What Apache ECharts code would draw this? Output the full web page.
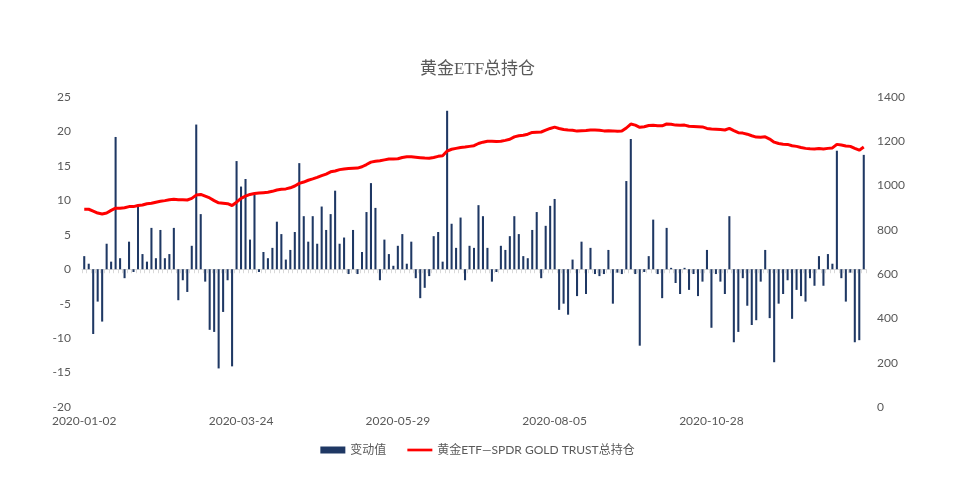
<!DOCTYPE html>
<html><head><meta charset="utf-8">
<script src="https://cdn.jsdelivr.net/npm/echarts@6/dist/echarts.min.js"></script>
<style>html,body{margin:0;padding:0;background:#fff}#c{width:955px;height:494px}</style>
</head><body><div id="c"></div>
<script>
const tickLabels = ['2020-01-02','2020-03-24','2020-05-29','2020-08-05','2020-10-28'];
const labelStep = 35;
const barName = '变动值';
const lineName = '黄金ETF—SPDR GOLD TRUST总持仓';
const changeValues = [
 1.9,0.8,-9.4,-4.7,-7.6,3.7,1.1,19.2,1.6,-1.3,
 4.0,-0.4,9.2,2.2,1.1,6.0,1.6,5.7,1.6,2.2,
 6.0,-4.5,-1.6,-3.3,3.4,21.0,8.0,-1.8,-8.8,-9.1,
 -14.4,-6.2,-1.6,-14.1,15.7,12.0,13.1,4.3,10.8,-0.4,
 2.5,1.6,3.1,6.9,5.1,1.4,2.8,5.4,15.4,7.7,
 4.0,7.7,3.7,9.1,5.7,8.0,11.4,3.7,4.6,-0.7,
 5.7,-0.7,2.5,8.3,12.5,8.9,-1.6,4.3,2.2,0.5,
 3.4,5.1,0.8,4.0,-1.3,-4.2,-2.7,-1.0,4.8,5.4,
 1.1,23.0,6.6,3.1,7.5,-1.6,3.4,3.1,9.3,7.7,
 3.1,-1.8,-0.4,3.4,2.8,4.8,7.7,5.1,1.9,1.6,
 5.7,8.3,-1.3,6.3,9.2,10.2,-5.9,-5.0,-6.6,1.4,
 -3.9,4.0,-3.6,3.1,-0.7,-1.0,-0.7,2.8,-5.0,-0.5,
 -0.7,12.8,18.9,-0.7,-11.1,-0.4,1.9,7.2,-0.7,-4.2,
 6.0,0.2,-2.0,-3.6,0.2,-3.0,-0.7,-3.9,-1.8,2.8,
 -8.5,-0.7,-1.8,-3.6,7.7,-10.6,-9.1,-1.3,-5.3,-8.1,
 -7.4,-1.8,2.8,-7.1,-13.5,-5.0,-3.6,-1.6,-7.2,-3.0,
 -3.9,-4.7,-1.3,-2.4,1.9,-2.4,2.2,0.8,17.2,-1.3,
 -4.7,-0.5,-10.6,-10.3,16.6
];
const holdingValues = [
 893,893,885,876,872,876,888,898,898,900,
 905,905,910,912,918,920,925,929,932,936,
 938,936,936,935,942,957,960,952,944,932,
 922,920,918,910,925,942,952,960,964,966,
 968,970,974,980,983,985,990,998,1010,1016,
 1024,1030,1037,1045,1052,1062,1066,1072,1075,1077,
 1078,1079,1085,1095,1106,1110,1112,1116,1120,1120,
 1121,1127,1130,1130,1128,1126,1124,1123,1127,1132,
 1135,1156,1164,1168,1172,1174,1177,1180,1190,1196,
 1200,1200,1199,1200,1204,1209,1220,1225,1227,1232,
 1240,1241,1242,1250,1258,1264,1258,1253,1251,1250,
 1246,1248,1249,1251,1251,1250,1247,1248,1247,1245,
 1246,1260,1278,1273,1263,1266,1271,1272,1270,1270,
 1278,1277,1273,1272,1273,1268,1267,1266,1265,1258,
 1255,1254,1253,1251,1258,1248,1239,1237,1232,1225,
 1219,1218,1220,1210,1196,1190,1187,1186,1180,1177,
 1172,1168,1166,1165,1167,1165,1168,1170,1186,1183,
 1179,1177,1168,1160,1174
];
const categories = changeValues.map((_, i) => String(i));
const FONT = 'Lato, "Noto Sans CJK SC", sans-serif';
const chart = echarts.init(document.getElementById('c'));
chart.setOption({
  animation: false,
  backgroundColor: '#ffffff',
  textStyle: { fontFamily: FONT },
  title: {
    text: '黄金ETF总持仓', left: 'center', top: 56,
    textStyle: { fontSize: 17, fontWeight: 'normal', color: '#595959', fontFamily: '"Liberation Serif", "Noto Sans CJK SC", serif' }
  },
  legend: {
    bottom: 33, left: 'center', itemWidth: 25, itemHeight: 7, itemGap: 21,
    textStyle: { fontSize: 12, color: '#595959', fontFamily: FONT },
    data: [
      { name: barName, icon: 'rect' },
      { name: lineName, icon: 'path://M0,0H28V3H0Z', itemStyle: { color: '#ff0000' } }
    ]
  },
  grid: { left: 82, right: 89, top: 97, bottom: 87, containLabel: false },
  xAxis: [
    {
      type: 'category', data: categories, position: 'bottom',
      axisLine: { show: false, onZero: false }, axisTick: { show: false },
      axisLabel: {
        interval: labelStep - 1, margin: 8, color: '#595959', fontSize: 12, fontFamily: FONT,
        formatter: (v, idx) => (idx % labelStep === 0 ? (tickLabels[idx / labelStep] || '') : '')
      },
      splitLine: { show: false }
    },
    {
      type: 'category', data: categories, position: 'bottom',
      axisLine: { show: true, onZero: true, onZeroAxisIndex: 0, lineStyle: { color: '#d9d9d9', width: 1 } },
      axisTick: { show: true, interval: 0, length: 4, lineStyle: { color: '#d9d9d9' } },
      axisLabel: { show: false }, splitLine: { show: false }
    }
  ],
  yAxis: [
    {
      type: 'value', min: -20, max: 25, interval: 5, position: 'left',
      axisLine: { show: false }, axisTick: { show: false }, splitLine: { show: false },
      axisLabel: { margin: 11, color: '#595959', fontSize: 12, fontFamily: FONT }
    },
    {
      type: 'value', min: 0, max: 1400, interval: 200, position: 'right',
      axisLine: { show: false }, axisTick: { show: false }, splitLine: { show: false },
      axisLabel: { margin: 11, color: '#595959', fontSize: 12, fontFamily: FONT, formatter: (v) => String(v) }
    }
  ],
  series: [
    {
      name: barName, type: 'bar', xAxisIndex: 0, yAxisIndex: 0,
      data: changeValues, barWidth: '46%', itemStyle: { color: '#1f3864' }
    },
    {
      name: lineName, type: 'line', xAxisIndex: 0, yAxisIndex: 1,
      data: holdingValues, symbol: 'none', showSymbol: false,
      lineStyle: { color: '#ff0000', width: 3 }, itemStyle: { color: '#ff0000' }, z: 3
    }
  ]
});
</script>
</body></html>
